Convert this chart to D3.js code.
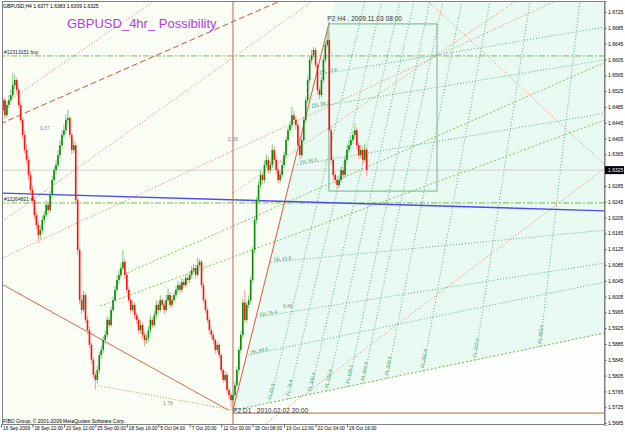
<!DOCTYPE html>
<html>
<head>
<meta charset="utf-8">
<script src="https://cdn.jsdelivr.net/npm/d3@7"></script>
<style>
  body { margin: 0; background: #fff; }
  text { font-family: Arial, "Liberation Sans", sans-serif; }
</style>
</head>
<body>
<div class="chart"></div>
<script>
// GBPUSD H4 - fibo study
// prices in pips above 1.0000 (6477 = 1.6477)
var opens = [6470,6477,6502,6464,6490,6502,6515,6540,6553,6528,6490,6452,6414,6376,6351,6313,6275,6249,6211,6186,
6161,6173,6199,6211,6237,6224,6262,6300,6325,6338,6363,6388,6414,6426,6452,6457,6414,6376,6388,6249,
6123,5996,5971,6009,5946,5920,5883,5845,5807,5794,5819,5857,5870,5895,5908,5946,5933,5971,5996,6022,
6047,6060,6077,6093,6060,6022,5996,5971,5984,5958,5946,5920,5933,5908,5895,5900,5920,5946,5933,5958,
5984,5971,5996,5984,5971,5996,6009,5984,5996,6009,6022,6034,6022,6042,6034,6052,6047,6060,6072,6077,
6060,6085,6093,6034,5996,5971,5946,5920,5908,5895,5870,5883,5857,5819,5794,5807,5769,5756,5743,5756,
5781,5819,5870,5908,5990,5946,5984,5996,6047,6123,6199,6249,6287,6313,6300,6338,6351,6325,6338,6376,
6351,6325,6300,6313,6338,6363,6401,6426,6439,6464,6452,6439,6388,6363,6401,6452,6502,6553,6604,6616,
6629,6591,6528,6515,6553,6604,6642,6654,6426,6351,6313,6300,6287,6300,6325,6313,6351,6376,6388,6401,
6414,6426,6388,6363,6376,6351,6377];
var closes = [6477,6502,6464,6490,6502,6515,6540,6553,6528,6490,6452,6414,6376,6351,6313,6275,6249,6211,6186,6161,
6173,6199,6211,6237,6224,6262,6300,6325,6338,6363,6388,6414,6426,6452,6457,6414,6376,6388,6249,6123,
5996,5971,6009,5946,5920,5883,5845,5807,5794,5819,5857,5870,5895,5908,5946,5933,5971,5996,6022,6047,
6060,6077,6093,6060,6022,5996,5971,5984,5958,5946,5920,5933,5908,5895,5900,5920,5946,5933,5958,5984,
5971,5996,5984,5971,5996,6009,5984,5996,6009,6022,6034,6022,6042,6034,6052,6047,6060,6072,6077,6060,
6085,6093,6034,5996,5971,5946,5920,5908,5895,5870,5883,5857,5819,5794,5807,5769,5756,5743,5756,5781,
5819,5870,5908,5990,5946,5984,5996,6047,6123,6199,6249,6287,6313,6300,6338,6351,6325,6338,6376,6351,
6325,6300,6313,6338,6363,6401,6426,6439,6464,6452,6439,6388,6363,6401,6452,6502,6553,6604,6616,6629,
6591,6528,6515,6553,6604,6642,6654,6426,6351,6313,6300,6287,6300,6325,6313,6351,6376,6388,6401,6414,
6426,6388,6363,6376,6351,6377,6325];
var highs = [6490,6510,6508,6498,6515,6530,6571,6566,6560,6535,6498,6460,6425,6390,6360,6322,6285,6258,6220,6195,
6185,6210,6222,6248,6245,6272,6310,6335,6350,6375,6400,6425,6440,6465,6477,6462,6420,6400,6395,6255,
6130,6010,6020,6015,5955,5930,5890,5852,5815,5830,5865,5880,5905,5920,5955,5952,5980,6005,6032,6058,
6072,6090,6123,6100,6068,6030,6005,5995,5990,5965,5952,5945,5940,5915,5912,5930,5958,5952,5968,5995,
5992,6008,6002,5990,6010,6025,6015,6006,6018,6032,6045,6040,6052,6050,6062,6058,6070,6082,6088,6085,
6103,6100,6098,6040,6002,5978,5952,5930,5915,5900,5892,5888,5862,5825,5818,5812,5775,5762,5768,5792,
5828,5878,5918,5998,6022,5992,6008,6055,6130,6208,6258,6298,6325,6320,6350,6365,6360,6348,6390,6385,
6358,6332,6322,6348,6372,6410,6435,6450,6485,6475,6460,6445,6395,6410,6460,6510,6562,6615,6630,6636,
6635,6598,6535,6562,6612,6650,6679,6660,6435,6360,6322,6310,6312,6335,6332,6360,6388,6400,6412,6425,
6444,6432,6395,6388,6385,6392,6383];
var lows = [6460,6470,6455,6458,6482,6495,6508,6530,6518,6482,6445,6405,6368,6340,6300,6265,6238,6200,6175,6141,
6150,6165,6190,6205,6215,6218,6255,6290,6315,6330,6355,6380,6405,6418,6440,6405,6365,6368,6240,6110,
5985,5960,5965,5938,5910,5875,5835,5798,5769,5785,5810,5848,5862,5885,5900,5925,5928,5965,5990,6015,
6038,6052,6070,6050,6012,5988,5962,5965,5948,5935,5910,5912,5898,5880,5885,5892,5912,5925,5928,5950,
5962,5965,5975,5960,5965,5990,5975,5978,5990,6002,6015,6012,6015,6025,6028,6038,6040,6052,6065,6050,
6055,6078,6025,5988,5962,5938,5910,5898,5885,5860,5862,5848,5810,5785,5788,5760,5745,5725,5738,5750,
5775,5812,5862,5900,5940,5938,5975,5990,6040,6115,6190,6240,6278,6290,6292,6330,6315,6318,6330,6342,
6315,6290,6292,6305,6330,6355,6395,6418,6430,6440,6428,6378,6352,6355,6395,6445,6495,6545,6595,6608,
6582,6518,6505,6508,6545,6598,6635,6418,6340,6300,6290,6270,6280,6292,6302,6305,6342,6368,6380,6392,
6405,6378,6352,6355,6340,6345,6309];

var priceTicks = [1.5685,1.5725,1.5765,1.5805,1.5845,1.5885,1.5925,1.5965,1.6005,1.6045,1.6085,1.6125,1.6165,1.6205,
  1.6245,1.6285,1.6325,1.6365,1.6405,1.6445,1.6485,1.6525,1.6565,1.6605,1.6645,1.6685,1.6725];
var timeBars = [0,16,32,48,64,80,96,112,128,144,160,176];
var timeLabels = ["16 Sep 2009","18 Sep 22:00","23 Sep 12:00","25 Sep 00:00","28 Sep 16:00","5 Oct 04:00",
  "7 Oct 20:00","12 Oct 00:00","15 Oct 08:00","19 Oct 12:00","22 Oct 04:00","26 Oct 16:00"];

var lastPrice = 1.6325;
var header = "GBPUSD,H4  1.6377  1.6383  1.6309  1.6325";

// objects: [bar1, price1, bar2, price2]
var p2Line = [118.0, 1.5718, 167.0, 1.6700];
var p2Box = [166.8, 1.6695, 221.8, 1.6272];
var p2Vertical = 118.0;
var p2Level = 1.5710;
var blueLine = [-0.5, 1.6267, 307.2, 1.6222];
var orderLevels = [1.6614, 1.6242];
var orderLabels = ["#12313151 buy", "#12264821 sl"];

var redDashed = [[-0.5, 1.6442, 142.9, 1.6755]];
var redDotted = [
  [-0.5, 1.6485, 78.3, 1.6755],
  [-0.5, 1.6191, 159.2, 1.6755],
  [-0.5, 1.6100, 282.8, 1.6755],
  [118.0, 1.6267, 262.5, 1.6755],
  [133.8, 1.5680, 307.2, 1.6330],
  [216.7, 1.6755, 307.2, 1.6338],
  [47.8, 1.5781, 118.0, 1.5718]
];
var redSolid = [[-0.5, 1.6039, 115.5, 1.5718]];

var islRays = [
  [160.7, 1.6566, 307.2, 1.6687],
  [156.7, 1.6482, 307.2, 1.6604],
  [150.6, 1.6338, 307.2, 1.6469],
  [137.3, 1.6092, 307.2, 1.6173],
  [130.2, 1.5953, 307.2, 1.6090],
  [125.6, 1.5857, 307.2, 1.6042]
];
var islLabels = ["ISL 23.6", "ISL 38.2", "ISL 50.0", "ISL 61.8", "ISL 76.4", "ISL 88.6"];
var baseRay = [119.0, 1.5718, 307.2, 1.5913];

var timeLineBottomBar = [136.8, 146.0, 157.2, 165.8, 176.5, 184.1, 196.3, 214.6, 241.1, 274.2];
var timeLineBottomPrice = [1.5737, 1.5746, 1.5758, 1.5766, 1.5777, 1.5785, 1.5798, 1.5817, 1.5844, 1.5878];
var timeLineTopBar = [185.1, 193.8, 203.0, 210.1, 218.2, 224.8, 234.5, 248.7, 269.1, 294.5];
var timeLineLabels = ["FL 61.8", "FL 76.4", "FL 100.0", "FL 123.6", "FL 138.2", "FL 161.8", "FL 200.0", "FL 261.8", "FL 323.6", "FL 423.6"];

var limeDashed = [
  [60.5, 1.6057, 307.2, 1.6598],
  [50.4, 1.5981, 307.2, 1.6452]
];

var noteText = ["0.37", "2.38", "1.78", "0.46"];
var noteBar = [19.8, 115.5, 82.4, 143.4];
var notePrice = [1.6426, 1.6399, 1.5731, 1.5976];

// ---- layout
var svgWidth = 625;
var svgHeight = 434;
var plot = { left: 2, top: 1, right: 605, bottom: 425 };
var font = "Arial, 'Liberation Sans', sans-serif";

var svg = d3.select(".chart")
  .append("svg")
  .attr("width", svgWidth)
  .attr("height", svgHeight)
  .style("display", "block");

var x = d3.scaleLinear().domain([0, 176]).range([1, 347]);
var y = d3.scaleLinear().domain([1.5680, 1.6753]).range([425, 1]);
var pip = v => 1 + v / 10000;

svg.append("rect").attr("width", svgWidth).attr("height", svgHeight).attr("fill", "#ffffff");

svg.append("defs").append("clipPath").attr("id", "clip")
  .append("rect")
  .attr("x", plot.left).attr("y", plot.top)
  .attr("width", plot.right - plot.left).attr("height", plot.bottom - plot.top);

var chart = svg.append("g").attr("clip-path", "url(#clip)");

chart.append("rect")
  .attr("x", plot.left).attr("y", plot.top)
  .attr("width", plot.right - plot.left).attr("height", plot.bottom - plot.top)
  .attr("fill", "#fafef4");

// mint zone right of the P2 line, above the base ray
var k = (x(p2Line[2]) - x(p2Line[0])) / (y(p2Line[3]) - y(p2Line[1]));
var topX = x(p2Line[0]) + (plot.top - y(p2Line[1])) * k;
chart.append("path")
  .attr("d", d3.line()([
    [x(p2Line[0]), y(p2Line[1])],
    [topX, plot.top],
    [plot.right, plot.top],
    [x(baseRay[2]), y(baseRay[3])],
    [x(baseRay[0]), y(baseRay[1])]
  ]))
  .attr("fill", "#e9faf3");

chart.append("path")
  .attr("d", d3.line()([
    [x(baseRay[0]), y(baseRay[1])],
    [x(baseRay[2]), y(baseRay[3])],
    [plot.right, plot.bottom],
    [x(baseRay[0]), plot.bottom]
  ]))
  .attr("fill", "#fdfffd");

function segs(data, color, dash, width) {
  chart.append("g").selectAll("line")
    .data(data)
    .enter()
    .append("line")
    .attr("x1", d => x(d[0])).attr("y1", d => y(d[1]))
    .attr("x2", d => x(d[2])).attr("y2", d => y(d[3]))
    .attr("stroke", color)
    .attr("stroke-width", width || 1)
    .attr("stroke-dasharray", dash);
}

// current price line
segs([[-1, lastPrice, 310, lastPrice]], "#cfcfcf", null, 1);

// fibo time lines (steep)
var timeLines = timeLineBottomBar.map((b, i) => [b, timeLineBottomPrice[i], timeLineTopBar[i], 1.6753]);
segs(timeLines, "#5fae86", "1,2", 1);

segs(islRays, "#5fae86", "1,2", 1);
segs([baseRay], "#6cb84a", "2,2", 1);
segs(limeDashed, "#88c060", "2,2", 1);

segs(redDotted, "#e0806e", "1,2", 1);
segs(redDashed, "#cc5040", "6,3", 1);
segs(redSolid, "#d06a50", null, 1);

// order levels
segs(orderLevels.map(p => [-1, p, 310, p]), "#6cbf4a", "6,2,2,2", 1);

// blue line
segs([blueLine], "#4a4cf2", null, 1.4);

// P2 objects
segs([[p2Vertical, 1.5680, p2Vertical, 1.6753]], "#c0654a", null, 1);
segs([[p2Vertical, p2Level, 310, p2Level]], "#d88050", null, 1.2);
segs([p2Line], "#d45a3c", null, 1);

chart.append("rect")
  .attr("x", x(p2Box[0])).attr("y", y(p2Box[1]))
  .attr("width", x(p2Box[2]) - x(p2Box[0]))
  .attr("height", y(p2Box[3]) - y(p2Box[1]))
  .attr("fill", "none")
  .attr("stroke", "#70b48e");

// candles
var bars = closes.map((c, i) => ({ i: i, o: pip(opens[i]), h: pip(highs[i]), l: pip(lows[i]), c: pip(c) }));
var candles = chart.append("g").selectAll("g")
  .data(bars)
  .enter()
  .append("g");

candles.append("line")
  .attr("x1", d => x(d.i)).attr("x2", d => x(d.i))
  .attr("y1", d => y(d.h)).attr("y2", d => y(d.l))
  .attr("stroke", d => d.c >= d.o ? "#7fca7f" : "#ff9a9a")
  .attr("stroke-width", 1);

candles.append("rect")
  .attr("x", d => x(d.i) - 0.8)
  .attr("width", 1.6)
  .attr("y", d => y(Math.max(d.o, d.c)))
  .attr("height", d => Math.max(1, Math.abs(y(d.o) - y(d.c))))
  .attr("fill", d => d.c >= d.o ? "#0a8a0a" : "#ff1010");

// small texts
function label(g, t, px, py, size, color, rot) {
  return g.append("text")
    .attr("transform", `translate(${px},${py})` + (rot ? ` rotate(${rot})` : ""))
    .attr("font-size", size + "px")
    .attr("fill", color)
    .text(t);
}

var txt = chart.append("g");

islRays.forEach(function (r, i) {
  var a = Math.atan2(y(r[3]) - y(r[1]), x(r[2]) - x(r[0])) * 180 / Math.PI;
  label(txt, islLabels[i], x(r[0]) + 3, y(r[1]) - 1, 4.8, "#3f9a70", a);
});

timeLines.forEach(function (r, i) {
  var a = Math.atan2(y(r[3]) - y(r[1]), x(r[2]) - x(r[0])) * 180 / Math.PI;
  label(txt, timeLineLabels[i], x(r[0]) + 1, y(r[1]) - 3, 4.8, "#3f9a70", a);
});

noteText.forEach(function (t, i) {
  label(txt, t, x(noteBar[i]), y(notePrice[i]), 5, "#8a8a8a");
});

orderLabels.forEach(function (t, i) {
  label(txt, t, 4, y(orderLevels[i]) - 2, 5, "#202020");
});

label(txt, "P2 H4 . 2009.11.03 08:00", x(p2Line[2]) - 2, y(p2Line[3]) - 1, 6.6, "#303030");
label(txt, "P2 D1 . 2010.02.02 20:00", x(p2Line[0]), y(p2Line[1]) + 3, 6.6, "#303030");

label(svg, header, 3, 8, 5, "#000");
label(svg, "GBPUSD_4hr_ Possibility", 67, 28, 13, "#b03ce6");
label(svg, "FIBO Group, \u00a9 2001-2009 MetaQuotes Software Corp.", 3, 423, 5, "#000");

// frame
svg.append("rect")
  .attr("x", plot.left + 0.5).attr("y", plot.top + 0.5)
  .attr("width", plot.right - plot.left - 1).attr("height", plot.bottom - plot.top - 1)
  .attr("fill", "none")
  .attr("stroke", "#808080");

// price axis
var yAxis = svg.append("g")
  .attr("transform", `translate(${plot.right - 0.5},0)`)
  .call(d3.axisRight(y).tickValues(priceTicks).tickFormat(d3.format(".4f")).tickSize(2).tickPadding(1.5));
yAxis.select(".domain").attr("stroke", "#808080");
yAxis.selectAll("line").attr("stroke", "#606060");
yAxis.selectAll("text")
  .attr("font-size", "5px")
  .attr("font-family", font)
  .attr("fill", "#000");

svg.append("rect")
  .attr("x", plot.right).attr("y", y(lastPrice) - 4)
  .attr("width", 19).attr("height", 8)
  .attr("fill", "#000");
label(svg, d3.format(".4f")(lastPrice), plot.right + 3, y(lastPrice) + 2, 5, "#fff");

// time axis
var xAxis = svg.append("g")
  .attr("transform", `translate(0,${plot.bottom - 0.5})`)
  .call(d3.axisBottom(x).tickValues(timeBars).tickFormat((d, i) => timeLabels[i]).tickSize(3).tickPadding(0));
xAxis.select(".domain").remove();
xAxis.selectAll("line").attr("stroke", "#606060");
xAxis.selectAll("text")
  .attr("text-anchor", "start")
  .attr("dx", 1.5)
  .attr("y", 2)
  .attr("font-size", "4.8px")
  .attr("font-family", font)
  .attr("fill", "#000");
</script>
</body>
</html>
